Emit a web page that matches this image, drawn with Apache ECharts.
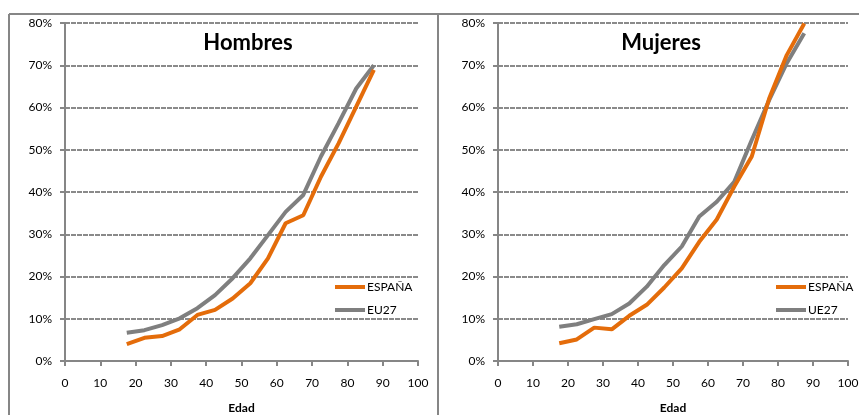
<!DOCTYPE html>
<html>
<head>
<meta charset="utf-8">
<script src="https://cdn.jsdelivr.net/npm/echarts@6/dist/echarts.min.js"></script>
<style>
html,body{margin:0;padding:0;background:#fff;}
#c{width:859px;height:415px;}
</style>
</head>
<body>
<div id="c"></div>
<script>
// Age group midpoints (x values)
var ages = [17.5, 22.5, 27.5, 32.5, 37.5, 42.5, 47.5, 52.5, 57.5, 62.5, 67.5, 72.5, 77.5, 82.5, 87.5];
// Hombres (percent)
var hombresEspana = [4.0, 5.5, 5.9, 7.5, 10.9, 12.1, 14.8, 18.4, 24.3, 32.6, 34.5, 43.6, 51.5, 60.2, 68.9];
var hombresEU27   = [6.7, 7.3, 8.5, 10.1, 12.5, 15.6, 19.6, 24.3, 29.8, 35.3, 39.3, 48.4, 56.3, 64.5, 70.0];
// Mujeres (percent)
var mujeresEspana = [4.2, 5.1, 7.9, 7.5, 10.7, 13.3, 17.4, 21.9, 28.2, 33.5, 41.3, 48.4, 62.2, 72.4, 79.9];
var mujeresUE27   = [8.1, 8.7, 9.9, 11.1, 13.6, 17.6, 22.7, 27.1, 34.2, 37.7, 42.4, 52.3, 61.8, 70.5, 77.6];
var titles = ['Hombres', 'Mujeres'];
var xTitle = 'Edad';

function pairs(xs, ys){ return xs.map(function(x,i){ return [x, ys[i]]; }); }

var FONT = 'Lato';
var AXIS = '#868686';
var ORANGE = '#E46C0A';
var GREY = '#7F7F7F';

function xAxisCfg(idx){
  return {
    type:'value', gridIndex: idx, min:0, max:100, interval:10,
    name: xTitle, nameLocation:'middle', nameGap:41,
    nameTextStyle:{fontFamily:FONT, fontWeight:'bold', fontSize:12, color:'#000'},
    axisLine:{show:true, lineStyle:{color:AXIS, width:2}},
    axisTick:{show:true, inside:false, length:5, lineStyle:{color:AXIS, width:2}},
    axisLabel:{fontFamily:FONT, fontSize:12, color:'#000', margin:16},
    splitLine:{show:false}
  };
}
function yAxisCfg(idx){
  return {
    type:'value', gridIndex: idx, min:0, max:80, interval:10,
    axisLine:{show:true, lineStyle:{color:AXIS, width:2}},
    axisTick:{show:true, inside:false, length:5, lineStyle:{color:AXIS, width:2}},
    axisLabel:{fontFamily:FONT, fontSize:12, color:'#000', margin:13, formatter:'{value}%'},
    splitLine:{show:true, lineStyle:{color:'#8A8A8A', width:2, type:[5,1]}}
  };
}
function lineSeries(name, data, color, idx){
  return {
    type:'line', name:name, xAxisIndex:idx, yAxisIndex:idx,
    data:data, showSymbol:false, symbol:'none', smooth:false,
    lineStyle:{color:color, width:4}, itemStyle:{color:color},
    z: color===ORANGE ? 3 : 2, animation:false
  };
}
function legendCfg(left, names){
  return {
    orient:'vertical', left:left, top:276, itemWidth:30, itemHeight:4,
    itemGap:11, icon:'rect',
    textStyle:{fontFamily:FONT, fontSize:12, color:'#000', padding:[0,0,0,-3]},
    data:names, selectedMode:false
  };
}

var chart = echarts.init(document.getElementById('c'), null, {renderer:'canvas'});
chart.setOption({
  backgroundColor:'#fff',
  animation:false,
  grid:[
    {left:65, right:441, top:23, bottom:54, outerBoundsMode:'none', containLabel:false},
    {left:498, right:11, top:23, bottom:54, outerBoundsMode:'none', containLabel:false}
  ],
  xAxis:[xAxisCfg(0), xAxisCfg(1)],
  yAxis:[yAxisCfg(0), yAxisCfg(1)],
  legend:[
    legendCfg(330, ['ESPAÑA','EU27']),
    legendCfg(771, ['ESPAÑA','UE27'])
  ],
  series:[
    lineSeries('EU27', pairs(ages, hombresEU27), GREY, 0),
    lineSeries('ESPAÑA', pairs(ages, hombresEspana), ORANGE, 0),
    lineSeries('UE27', pairs(ages, mujeresUE27), GREY, 1),
    lineSeries('ESPAÑA', pairs(ages, mujeresEspana), ORANGE, 1)
  ],
  graphic:[
    {type:'line', shape:{x1:9, y1:14, x2:859, y2:14}, style:{stroke:AXIS, lineWidth:2}, silent:true},
    {type:'line', shape:{x1:9, y1:14, x2:9, y2:415}, style:{stroke:AXIS, lineWidth:2}, silent:true},
    {type:'line', shape:{x1:438, y1:14, x2:438, y2:415}, style:{stroke:AXIS, lineWidth:2}, silent:true},
    {type:'text', x:248, y:43, style:{text:titles[0], font:'bold 22px Lato', fill:'#000', textAlign:'center', textVerticalAlign:'middle'}, silent:true, z:10},
    {type:'text', x:661, y:43, style:{text:titles[1], font:'bold 22px Lato', fill:'#000', textAlign:'center', textVerticalAlign:'middle'}, silent:true, z:10}
  ]
});
</script>
</body>
</html>
